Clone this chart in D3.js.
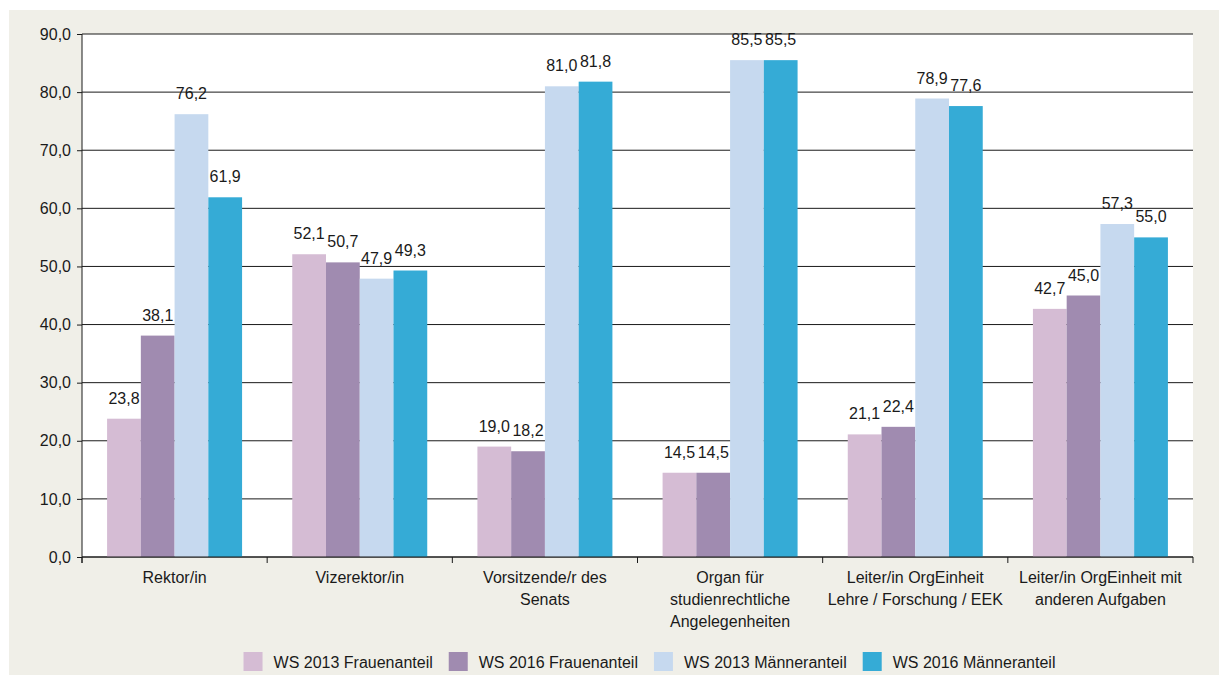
<!DOCTYPE html>
<html>
<head>
<meta charset="utf-8">
<script src="https://cdn.jsdelivr.net/npm/d3@7"></script>
<style>
  body { margin: 0; background: #ffffff; }
  svg { display: block; }
  text { font-family: 'Liberation Sans', Arial, sans-serif; font-size: 16px; fill: #1a1a1a; }
</style>
</head>
<body>
<svg id="chart" width="1219" height="675"></svg>
<script>
'use strict';

// Kategorien (Zeilenumbruch wie im Original)
var categories = [
    'Rektor/in',
    'Vizerektor/in',
    'Vorsitzende/r des\nSenats',
    'Organ für\nstudienrechtliche\nAngelegenheiten',
    'Leiter/in OrgEinheit\nLehre / Forschung / EEK',
    'Leiter/in OrgEinheit mit\nanderen Aufgaben'
];
var seriesNames = ['WS 2013 Frauenanteil', 'WS 2016 Frauenanteil', 'WS 2013 Männeranteil', 'WS 2016 Männeranteil'];
var ws2013Frauen = [23.8, 52.1, 19.0, 14.5, 21.1, 42.7];
var ws2016Frauen = [38.1, 50.7, 18.2, 14.5, 22.4, 45.0];
var ws2013Maenner = [76.2, 47.9, 81.0, 85.5, 78.9, 57.3];
var ws2016Maenner = [61.9, 49.3, 81.8, 85.5, 77.6, 55.0];
var yTicks = [0, 10, 20, 30, 40, 50, 60, 70, 80, 90];
var colors = ['#d5bcd4', '#a08bb0', '#c6d9ef', '#35abd6'];

var seriesValues = [ws2013Frauen, ws2016Frauen, ws2013Maenner, ws2016Maenner];

var svg = d3.select('#chart');
var width = 1219;
var height = 675;

var plot = { left: 82, right: 1193, top: 34, bottom: 557 };

var de = d3.formatLocale({ decimal: ',', thousands: '.', grouping: [3], currency: ['', ' €'] });
var fmt = de.format('.1f');

// beiger Hintergrund
svg.append('rect')
    .attr('x', 9).attr('y', 10)
    .attr('width', width - 9).attr('height', height - 10)
    .attr('fill', '#f0efe8');

svg.append('rect')
    .attr('x', plot.left).attr('y', plot.top)
    .attr('width', plot.right - plot.left).attr('height', plot.bottom - plot.top)
    .attr('fill', '#ffffff');

var x0 = d3.scaleBand()
    .domain(categories)
    .range([plot.left, plot.right])
    .paddingInner(0.271)
    .paddingOuter(0.1355);

var x1 = d3.scaleBand()
    .domain(d3.range(seriesNames.length))
    .range([0, x0.bandwidth()]);

var y = d3.scaleLinear()
    .domain([0, 90])
    .range([plot.bottom, plot.top]);

// Gitternetz + y-Achse
var yAxis = svg.append('g')
    .attr('class', 'y-axis')
    .attr('transform', 'translate(' + plot.left + ',0)')
    .call(d3.axisLeft(y)
        .tickValues(yTicks)
        .tickSize(5)
        .tickPadding(6)
        .tickFormat(fmt));
yAxis.select('.domain').remove();
yAxis.selectAll('.tick line').attr('stroke', '#1a1a1a');
yAxis.selectAll('.tick text')
    .attr('fill', '#1a1a1a')
    .style('font-size', '16px')
    .style('font-family', "'Liberation Sans', Arial, sans-serif");

svg.append('g')
    .attr('class', 'grid')
    .selectAll('line')
    .data(yTicks)
    .enter().append('line')
    .attr('x1', plot.left)
    .attr('x2', plot.right)
    .attr('y1', function(d) { return y(d); })
    .attr('y2', function(d) { return y(d); })
    .attr('stroke', '#1a1a1a')
    .attr('stroke-width', 1);

// Balken
var rows = categories.map(function(c, i) {
    return { category: c, values: seriesValues.map(function(s) { return s[i]; }) };
});

var groups = svg.selectAll('.group')
    .data(rows)
    .enter().append('g')
    .attr('class', 'group')
    .attr('transform', function(d) { return 'translate(' + x0(d.category) + ',0)'; });

groups.selectAll('rect')
    .data(function(d) { return d.values; })
    .enter().append('rect')
    .attr('x', function(d, i) { return x1(i); })
    .attr('y', function(d) { return y(d); })
    .attr('width', x1.bandwidth())
    .attr('height', function(d) { return y(0) - y(d); })
    .attr('fill', function(d, i) { return colors[i]; });

groups.selectAll('.value')
    .data(function(d) { return d.values; })
    .enter().append('text')
    .attr('class', 'value')
    .attr('x', function(d, i) { return x1(i) + x1.bandwidth() / 2; })
    .attr('y', function(d) { return y(d) - 15; })
    .attr('text-anchor', 'middle')
    .text(function(d) { return fmt(d); });

// x-Achse
svg.append('line')
    .attr('x1', plot.left).attr('x2', plot.right)
    .attr('y1', plot.bottom).attr('y2', plot.bottom)
    .attr('stroke', '#1a1a1a');

svg.append('line')
    .attr('x1', plot.left).attr('x2', plot.left)
    .attr('y1', plot.top).attr('y2', plot.bottom + 6)
    .attr('stroke', '#1a1a1a');

svg.selectAll('.xtick')
    .data(d3.range(categories.length + 1))
    .enter().append('line')
    .attr('class', 'xtick')
    .attr('x1', function(i) { return plot.left + i * x0.step(); })
    .attr('x2', function(i) { return plot.left + i * x0.step(); })
    .attr('y1', plot.bottom)
    .attr('y2', plot.bottom + 6)
    .attr('stroke', '#1a1a1a');

var catLabels = svg.selectAll('.cat')
    .data(categories)
    .enter().append('text')
    .attr('class', 'cat')
    .attr('text-anchor', 'middle')
    .attr('transform', function(d) { return 'translate(' + (x0(d) + x0.bandwidth() / 2) + ',583)'; });

catLabels.selectAll('tspan')
    .data(function(d) { return d.split('\n'); })
    .enter().append('tspan')
    .attr('x', 0)
    .attr('y', function(d, i) { return i * 22; })
    .text(function(d) { return d; });

// Legende
var legend = svg.append('g').attr('class', 'legend');
var items = legend.selectAll('.item')
    .data(seriesNames)
    .enter().append('g')
    .attr('class', 'item');

items.append('rect')
    .attr('width', 19).attr('height', 19)
    .attr('y', 652)
    .attr('fill', function(d, i) { return colors[i]; });

items.append('text')
    .attr('x', 30)
    .attr('y', 668)
    .text(function(d) { return d; });

var offsets = [];
var pos = 0;
items.each(function() {
    offsets.push(pos);
    pos += 30 + d3.select(this).select('text').node().getComputedTextLength() + 16;
});
var total = pos - 16;
var startX = 649.5 - total / 2;
items.attr('transform', function(d, i) { return 'translate(' + (startX + offsets[i]) + ',0)'; });
</script>
</body>
</html>
